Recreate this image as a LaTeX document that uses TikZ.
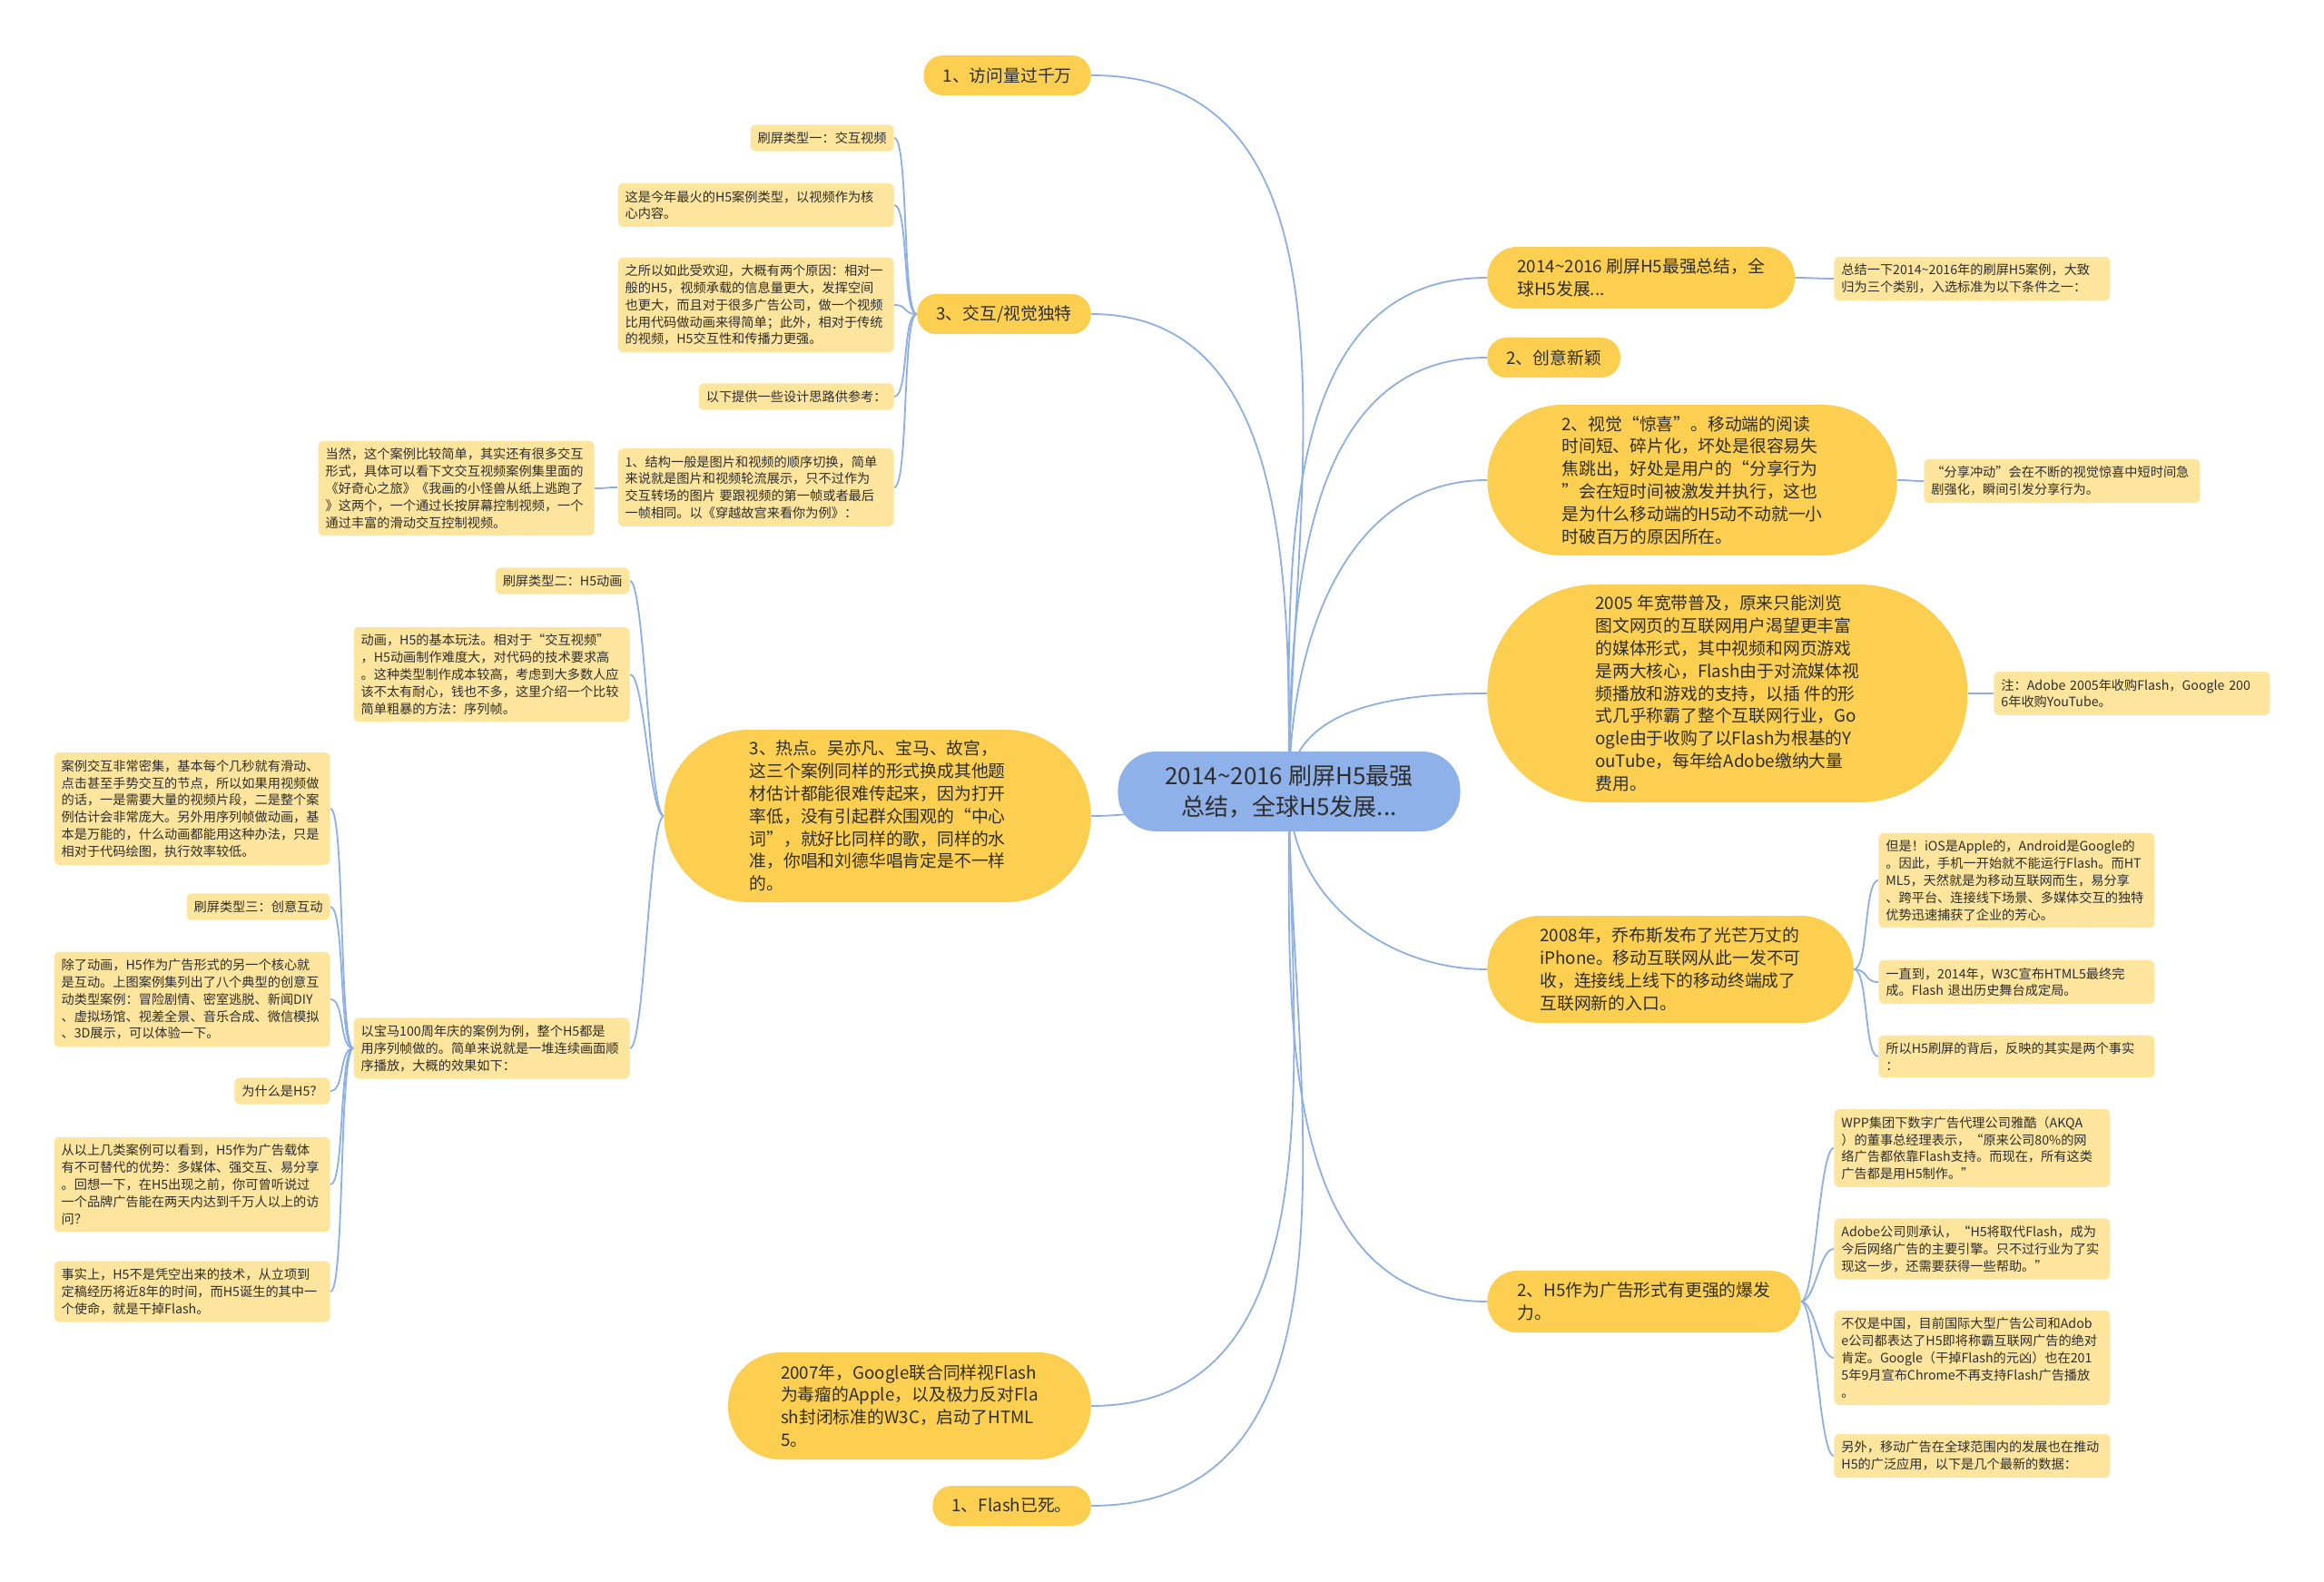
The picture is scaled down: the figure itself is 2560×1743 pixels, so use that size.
\documentclass[tikz,border=0pt]{standalone}
\usepackage{fontspec}
\setmainfont{Noto Sans CJK SC}
\usetikzlibrary{backgrounds}
\definecolor{linkblue}{HTML}{8DAFE2}
\definecolor{rootblue}{HTML}{8FB1E9}
\definecolor{topicgold}{HTML}{FCCF50}
\definecolor{notecream}{HTML}{FDE59E}
\definecolor{inkgray}{HTML}{2E2E2E}

\begin{document}
\begin{tikzpicture}[x=0.5pt, y=-0.5pt,
    root/.style={rectangle, rounded corners=21pt, fill=rootblue, text=inkgray, align=center,
      inner xsep=26pt, inner ysep=6pt, minimum height=44pt, font=\fontsize{13}{17}\selectfont},
    topic/.style={rectangle, rounded corners=#1, fill=topicgold, text=inkgray, align=left,
      inner xsep=#1, inner ysep=5pt, minimum height=2*#1+1pt, font=\fontsize{9.4}{12.4}\selectfont},
    topic/.default=10.5pt,
    note/.style={rectangle, rounded corners=3pt, fill=notecream, text=inkgray,
      align=left, inner xsep=4pt, inner ysep=4pt, font=\fontsize{7.1}{9.4}\selectfont},
    wide/.style={text width=144pt},
    link/.style={linkblue, line width=0.9pt},
    twig/.style={linkblue, line width=0.9pt, distance=8pt}]
    \useasboundingbox (0,0) rectangle (2560,1743);

    % Center
    \node[root] (c) at (1420,872) {2014\textasciitilde2016 刷屏H5最强\\总结，全球H5发展...};

    % Left branches
    \node[topic, anchor=east] (visits) at (1202,83) {1、访问量过千万};
    \node[topic, anchor=east] (interact) at (1202,346) {3、交互/视觉独特};
    \node[topic=47pt, anchor=east] (hot) at (1202,899) {3、热点。吴亦凡、宝马、故宫，\\这三个案例同样的形式换成其他题\\材估计都能很难传起来，因为打开\\率低，没有引起群众围观的“中心\\词”，就好比同样的歌，同样的水\\准，你唱和刘德华唱肯定是不一样\\的。};
    \node[topic=29pt, anchor=east] (y2007) at (1202,1549) {2007年，Google联合同样视Flash\\为毒瘤的Apple，以及极力反对Fla\\sh封闭标准的W3C，启动了HTML\\5。};
    \node[topic, anchor=east] (dead) at (1202,1659) {1、Flash已死。};

    % Notes of interact
    \node[note, anchor=east] (i1) at (985,152) {刷屏类型一：交互视频};
    \node[note, wide, anchor=east] (i2) at (985,226) {这是今年最火的H5案例类型，以视频作为核\\心内容。};
    \node[note, wide, anchor=east] (i3) at (985,336) {之所以如此受欢迎，大概有两个原因：相对一\\般的H5，视频承载的信息量更大，发挥空间\\也更大，而且对于很多广告公司，做一个视频\\比用代码做动画来得简单；此外，相对于传统\\的视频，H5交互性和传播力更强。};
    \node[note, anchor=east] (i4) at (985,437) {以下提供一些设计思路供参考：};
    \node[note, wide, anchor=east] (i5) at (985,537) {1、结构一般是图片和视频的顺序切换，简单\\来说就是图片和视频轮流展示，只不过作为\\交互转场的图片 要跟视频的第一帧或者最后\\一帧相同。以《穿越故宫来看你为例》：};
    \node[note, wide, anchor=east] (i5a) at (655,538) {当然，这个案例比较简单，其实还有很多交互\\形式，具体可以看下文交互视频案例集里面的\\《好奇心之旅》《我画的小怪兽从纸上逃跑了\\》这两个，一个通过长按屏幕控制视频，一个\\通过丰富的滑动交互控制视频。};

    % Notes of hot
    \node[note, anchor=east] (h1) at (694,640) {刷屏类型二：H5动画};
    \node[note, wide, anchor=east] (h2) at (694,743) {动画，H5的基本玩法。相对于“交互视频”\\，H5动画制作难度大，对代码的技术要求高\\。这种类型制作成本较高，考虑到大多数人应\\该不太有耐心，钱也不多，这里介绍一个比较\\简单粗暴的方法：序列帧。};
    \node[note, wide, anchor=east] (h3) at (694,1155) {以宝马100周年庆的案例为例，整个H5都是\\用序列帧做的。简单来说就是一堆连续画面顺\\序播放，大概的效果如下：};
    \node[note, wide, anchor=east] (k1) at (364,891) {案例交互非常密集，基本每个几秒就有滑动、\\点击甚至手势交互的节点，所以如果用视频做\\的话，一是需要大量的视频片段，二是整个案\\例估计会非常庞大。另外用序列帧做动画，基\\本是万能的，什么动画都能用这种办法，只是\\相对于代码绘图，执行效率较低。};
    \node[note, anchor=east] (k2) at (364,999) {刷屏类型三：创意互动};
    \node[note, wide, anchor=east] (k3) at (364,1101) {除了动画，H5作为广告形式的另一个核心就\\是互动。上图案例集列出了八个典型的创意互\\动类型案例：冒险剧情、密室逃脱、新闻DIY\\、虚拟场馆、视差全景、音乐合成、微信模拟\\、3D展示，可以体验一下。};
    \node[note, anchor=east] (k4) at (364,1202) {为什么是H5？};
    \node[note, wide, anchor=east] (k5) at (364,1305) {从以上几类案例可以看到，H5作为广告载体\\有不可替代的优势：多媒体、强交互、易分享\\。回想一下，在H5出现之前，你可曾听说过\\一个品牌广告能在两天内达到千万人以上的访\\问？};
    \node[note, wide, anchor=east] (k6) at (364,1423) {事实上，H5不是凭空出来的技术，从立项到\\定稿经历将近8年的时间，而H5诞生的其中一\\个使命，就是干掉Flash。};

    % Right branches
    \node[topic=16.5pt, anchor=west] (sum) at (1638,306) {2014\textasciitilde2016 刷屏H5最强总结，全\\球H5发展...};
    \node[topic, anchor=west] (creative) at (1638,394) {2、创意新颖};
    \node[topic=41pt, anchor=west] (visual) at (1638,529) {2、视觉“惊喜”。移动端的阅读\\时间短、碎片化，坏处是很容易失\\焦跳出，好处是用户的“分享行为\\”会在短时间被激发并执行，这也\\是为什么移动端的H5动不动就一小\\时破百万的原因所在。};
    \node[topic=59.5pt, anchor=west] (y2005) at (1638,764) {2005 年宽带普及，原来只能浏览\\图文网页的互联网用户渴望更丰富\\的媒体形式，其中视频和网页游戏\\是两大核心，Flash由于对流媒体视\\频播放和游戏的支持，以插 件的形\\式几乎称霸了整个互联网行业，Go\\ogle由于收购了以Flash为根基的Y\\ouTube，每年给Adobe缴纳大量\\费用。};
    \node[topic=29pt, anchor=west] (y2008) at (1638,1068) {2008年，乔布斯发布了光芒万丈的\\iPhone。移动互联网从此一发不可\\收，连接线上线下的移动终端成了\\互联网新的入口。};
    \node[topic=16.5pt, anchor=west] (burst) at (1638,1434) {2、H5作为广告形式有更强的爆发\\力。};

    % Notes on the right
    \node[note, wide, anchor=west] (sumnote) at (2020,307) {总结一下2014\textasciitilde2016年的刷屏H5案例，大致\\归为三个类别，入选标准为以下条件之一：};
    \node[note, wide, anchor=west] (visnote) at (2119,530) {“分享冲动”会在不断的视觉惊喜中短时间急\\剧强化，瞬间引发分享行为。};
    \node[note, wide, anchor=west] (adnote) at (2196,764) {注：Adobe 2005年收购Flash，Google 200\\6年收购YouTube。};
    \node[note, wide, anchor=west] (m1) at (2069,970) {但是！iOS是Apple的，Android是Google的\\。因此，手机一开始就不能运行Flash。而HT\\ML5，天然就是为移动互联网而生，易分享\\、跨平台、连接线下场景、多媒体交互的独特\\优势迅速捕获了企业的芳心。};
    \node[note, wide, anchor=west] (m2) at (2069,1082) {一直到，2014年，W3C宣布HTML5最终完\\成。Flash 退出历史舞台成定局。};
    \node[note, wide, anchor=west] (m3) at (2069,1164) {所以H5刷屏的背后，反映的其实是两个事实\\：};
    \node[note, wide, anchor=west] (b1) at (2020,1265) {WPP集团下数字广告代理公司雅酷（AKQA\\）的董事总经理表示，“原来公司80\%的网\\络广告都依靠Flash支持。而现在，所有这类\\广告都是用H5制作。”};
    \node[note, wide, anchor=west] (b2) at (2020,1376) {Adobe公司则承认，“H5将取代Flash，成为\\今后网络广告的主要引擎。只不过行业为了实\\现这一步，还需要获得一些帮助。”};
    \node[note, wide, anchor=west] (b3) at (2020,1496) {不仅是中国，目前国际大型广告公司和Adob\\e公司都表达了H5即将称霸互联网广告的绝对\\肯定。Google（干掉Flash的元凶）也在201\\5年9月宣布Chrome不再支持Flash广告播放\\。};
    \node[note, wide, anchor=west] (b4) at (2020,1604) {另外，移动广告在全球范围内的发展也在推动\\H5的广泛应用，以下是几个最新的数据：};

    % Connectors
    \begin{pgfonlayer}{background}
      \fill[white] (0,0) rectangle (2560,1743);
      \draw[link] (c.center) to[out=90,in=0] (visits.east);
      \draw[link] (c.center) to[out=90,in=0] (interact.east);
      \draw[link] (c.center) to[out=180,in=0] (hot.east);
      \draw[link] (c.center) to[out=270,in=0] (y2007.east);
      \draw[link] (c.center) to[out=270,in=0] (dead.east);
      \draw[link] (c.center) to[out=90,in=180] (sum.west);
      \draw[link] (c.center) to[out=90,in=180] (creative.west);
      \draw[link] (c.center) to[out=90,in=180] (visual.west);
      \draw[link] (c.center) to[out=90,in=180] (y2005.west);
      \draw[link] (c.center) to[out=270,in=180] (y2008.west);
      \draw[link] (c.center) to[out=270,in=180] (burst.west);

      \foreach \n in {i1,i2,i3,i4,i5}
        \draw[twig] (interact.west) to[out=180,in=0] (\n.east);
      \draw[twig] (i5.west) to[out=180,in=0] (i5a.east);
      \foreach \n in {h1,h2,h3}
        \draw[twig] (hot.west) to[out=180,in=0] (\n.east);
      \foreach \n in {k1,k2,k3,k4,k5,k6}
        \draw[twig] (h3.west) to[out=180,in=0] (\n.east);

      \draw[twig] (sum.east) to[out=0,in=180] (sumnote.west);
      \draw[twig] (visual.east) to[out=0,in=180] (visnote.west);
      \draw[twig] (y2005.east) to[out=0,in=180] (adnote.west);
      \foreach \n in {m1,m2,m3}
        \draw[twig] (y2008.east) to[out=0,in=180] (\n.west);
      \foreach \n in {b1,b2,b3,b4}
        \draw[twig] (burst.east) to[out=0,in=180] (\n.west);
    \end{pgfonlayer}
\end{tikzpicture}
\end{document}
